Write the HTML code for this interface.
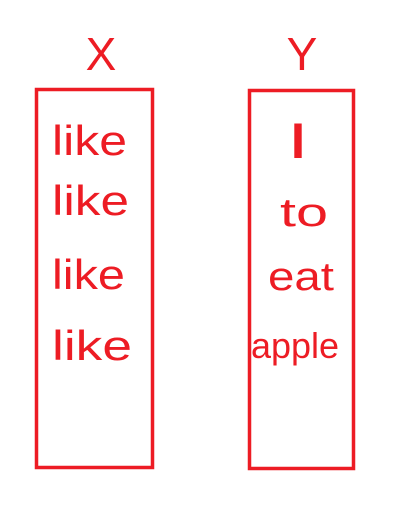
<!DOCTYPE html>
<html>
<head>
<meta charset="utf-8">
<style>
  html,body{margin:0;padding:0;background:#fff;}
  svg{display:block;}
  text{font-family:"Liberation Sans",sans-serif;fill:#ed1c24;font-weight:normal;}
</style>
</head>
<body>
<svg width="412" height="527" viewBox="0 0 412 527">
  <text x="101" y="70" font-size="46" text-anchor="middle">X</text>
  <text x="302" y="70" font-size="46" text-anchor="middle">Y</text>

  <rect x="36.5" y="89.5" width="116" height="378" fill="none" stroke="#ed1c24" stroke-width="3.5"/>
  <rect x="249.5" y="90.5" width="104" height="378" fill="none" stroke="#ed1c24" stroke-width="3.5"/>

  <g font-size="42">
    <text x="52" y="155" textLength="75" lengthAdjust="spacingAndGlyphs">like</text>
    <text x="52" y="215" textLength="77" lengthAdjust="spacingAndGlyphs">like</text>
    <text x="52" y="289" textLength="73" lengthAdjust="spacingAndGlyphs">like</text>
    <text x="52" y="360" textLength="80" lengthAdjust="spacingAndGlyphs">like</text>
  </g>
  <g font-size="40">
    <text x="287" y="158" font-size="50" textLength="22" lengthAdjust="spacingAndGlyphs">I</text>
    <text x="280" y="226" textLength="48" lengthAdjust="spacingAndGlyphs">to</text>
    <text x="268" y="290" textLength="66" lengthAdjust="spacingAndGlyphs">eat</text>
    <text x="251" y="358" font-size="36" textLength="88" lengthAdjust="spacingAndGlyphs">apple</text>
  </g>
</svg>
</body>
</html>
